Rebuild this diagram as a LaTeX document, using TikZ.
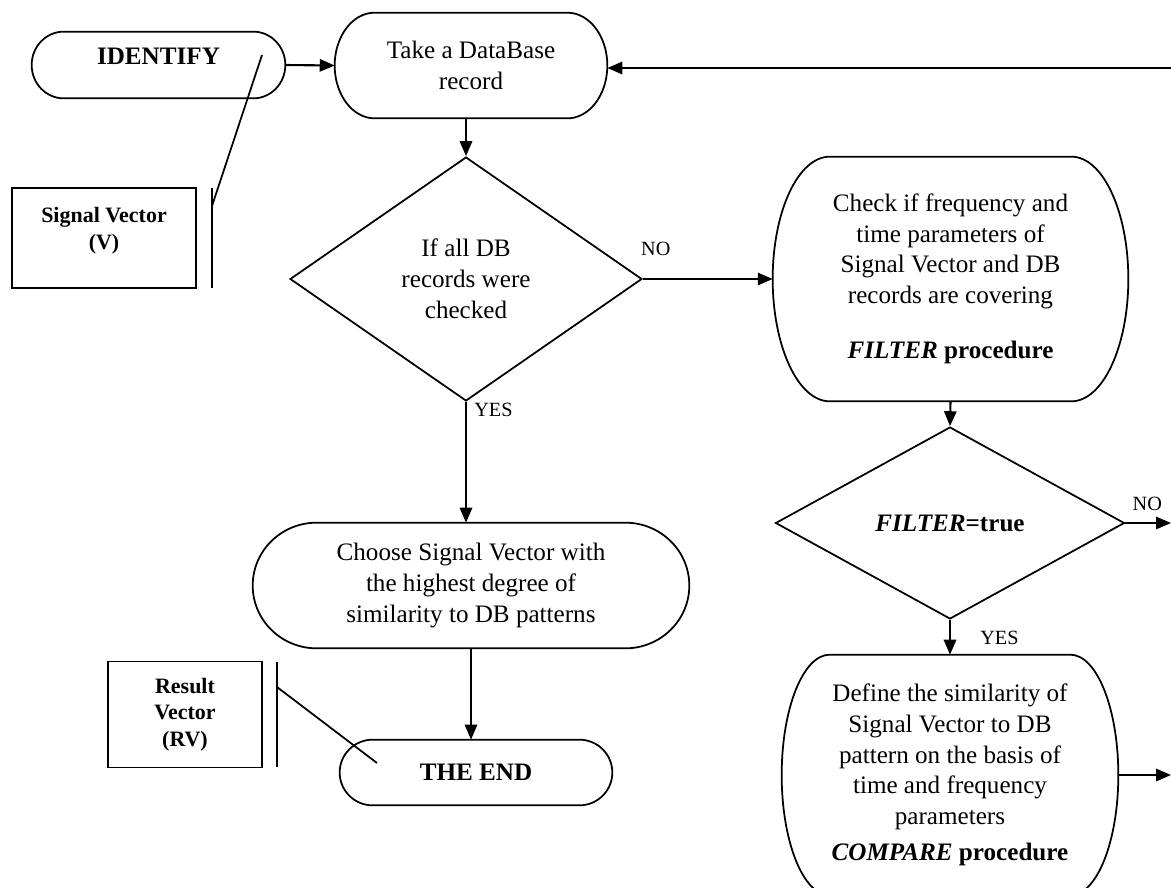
\documentclass[tikz,border=0pt]{standalone}
\usepackage{fontspec}
\setmainfont{Liberation Serif}
\usetikzlibrary{shapes.geometric,arrows.meta,calc}

% outline with flat top/bottom and half-ellipse ends (radius in px)
\newcommand{\termline}[2]{%
  \draw[line width=1pt] let \p1=(#1.north), \p2=(#1.south), \n1={0.5*(\y1-\y2)} in
    ([xshift=#2*0.02cm]#1.north west) -- ([xshift=-#2*0.02cm]#1.north east)
    arc[start angle=90, end angle=-90, x radius=#2*0.02cm, y radius=\n1]
    -- ([xshift=#2*0.02cm]#1.south west)
    arc[start angle=270, end angle=90, x radius=#2*0.02cm, y radius=\n1] -- cycle;}

\tikzset{
  box/.style={align=center, inner sep=0pt, font=\fontsize{14.3}{17.5}\selectfont},
  decision/.style={box, draw, line width=1pt, shape=diamond},
  vec/.style={draw, line width=1pt, align=center, inner sep=0pt, font=\bfseries\fontsize{12.5}{15}\selectfont},
  lbl/.style={inner sep=0pt, font=\fontsize{11.5}{13}\selectfont},
  arr/.style={-{Triangle[length=8.5pt,width=7pt]}, line width=1.2pt},
  note/.style={line width=1pt}
}

\begin{document}
\begin{tikzpicture}[x=0.02cm,y=0.02cm]
\useasboundingbox (0,0) rectangle (1171,-887);

% left column
\node[box, minimum width=5.06cm, minimum height=1.32cm, text height=10pt, text depth=11pt] (ident) at (158.5,-65) {\textbf{IDENTIFY}};
\node[box, minimum width=5.44cm, minimum height=2.1cm] (take) at (471,-65.5) {Take a DataBase\\record};
\node[decision, minimum width=7.04cm, minimum height=4.88cm] (dec1) at (466,-279) {If all DB\\records were\\checked};
\node[box, minimum width=8.72cm, minimum height=2.5cm] (choose) at (471,-585.5) {Choose Signal Vector with\\the highest degree of\\similarity to DB patterns};
\node[box, minimum width=5.44cm, minimum height=1.3cm] (end) at (476,-772.5) {\textbf{THE END}};

% right column
\node[box, minimum width=7.1cm, minimum height=4.88cm] (filt) at (950.5,-279) {Check if frequency and\\time parameters of\\Signal Vector and DB\\records are covering\\[14pt]\textbf{\textit{FILTER}} \textbf{procedure}};
\node[decision, minimum width=6.98cm, minimum height=3.84cm] (dec2) at (950,-523) {\textbf{\textit{FILTER}=true}};
\node[box, minimum width=6.72cm, minimum height=4.8cm] (comp) at (950,-775) {Define the similarity of\\Signal Vector to DB\\pattern on the basis of\\time and frequency\\parameters\\[3pt]\textbf{\textit{COMPARE}} \textbf{procedure}};

\termline{ident}{32}
\termline{take}{40}
\termline{choose}{64}
\termline{end}{33}
\termline{filt}{57}
\termline{comp}{48}

% data vectors
\node[vec, minimum width=3.68cm, minimum height=2cm] (sv) at (104,-238) {Signal Vector\\(V)\rule[-11pt]{0pt}{11pt}};
\coordinate (svtop) at (212,-188);
\coordinate (svbot) at (212,-288);
\coordinate (svjoin) at (212,-206);
\coordinate (svtip) at (262,-55);
\draw[note] (svtop) -- (svbot);
\draw[note] (svjoin) -- (svtip);

\node[vec, minimum width=3.08cm, minimum height=2.12cm] (rv) at (185,-714.5) {Result\\Vector\\(RV)};
\coordinate (rvtop) at (277,-662);
\coordinate (rvbot) at (277,-767);
\coordinate (rvjoin) at (277,-687);
\coordinate (rvtip) at (377,-763);
\draw[note] (rvtop) -- (rvbot);
\draw[note] (rvjoin) -- (rvtip);

% loose ends at the right border
\coordinate (loop) at (1171,-68);
\coordinate (noout) at (1171,-523);
\coordinate (cmpout) at (1171,-772);

\draw[arr] (ident.east) -- (take.west);
\draw[arr] (take.south -| dec1.north) -- (dec1.north);
\draw[arr] (dec1.east) -- (filt.west);
\node[lbl, anchor=south west] at ([shift={(-2,23)}]dec1.east) {NO};
\draw[arr] (dec1.south) -- (dec1.south |- choose.north);
\node[lbl, anchor=north west] at ([shift={(8,-1)}]dec1.south) {YES};
\draw[arr] (choose.south) -- (choose.south |- end.north);
\draw[arr] (filt.south) -- (dec2.north);
\draw[arr] (dec2.east) -- (noout);
\node[lbl, anchor=south west] at ([shift={(7,12)}]dec2.east) {NO};
\draw[arr] (dec2.south) -- (comp.north);
\node[lbl, anchor=north west] at ([shift={(30,-11)}]dec2.south) {YES};
\draw[arr] (comp.east -| comp.east) -- (comp.east -| cmpout);
\draw[arr] (loop) -- (loop -| take.east);
\end{tikzpicture}
\end{document}
